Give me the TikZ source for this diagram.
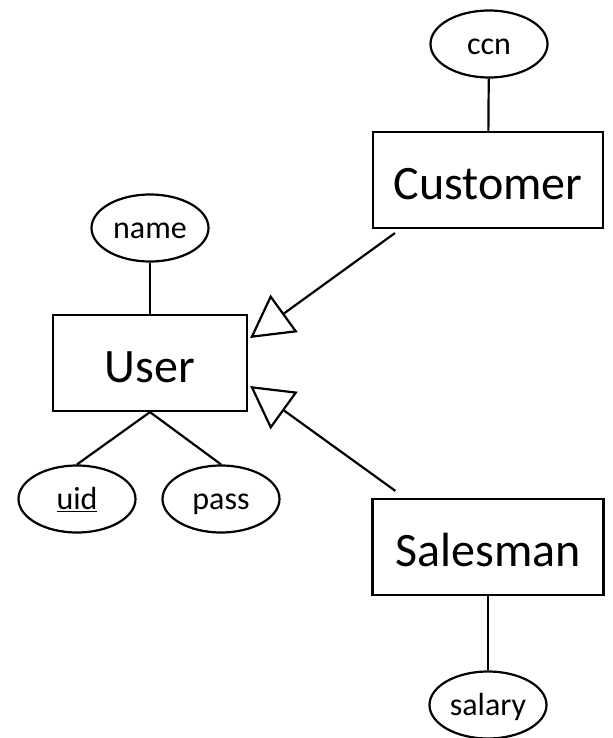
\documentclass[tikz,border=0pt]{standalone}
\usepackage{fontspec}
\setmainfont{Carlito}
\usetikzlibrary{arrows.meta,shapes.geometric,calc}

\tikzset{
  entity/.style={draw, line width=2.2bp, rectangle, minimum height=96bp, inner sep=0pt,
                 text height=40bp, text depth=2bp,
                 font=\fontsize{48bp}{52bp}\selectfont},
  attr/.style={draw, line width=2.2bp, ellipse, minimum width=117bp, minimum height=67bp, inner sep=0pt,
               text height=24bp, text depth=3bp,
               font=\fontsize{32bp}{36bp}\selectfont},
  link/.style={line width=2.2bp},
  isa/.style={line width=2.2bp, -{Triangle[open, length=42bp, width=46bp]}},
}

\begin{document}
\begin{tikzpicture}[x=1bp, y=-1bp]
  \useasboundingbox (0,0) rectangle (613,738);

  % entities
  \node[entity, minimum width=194bp] (user) at (150,363) {User};
  \node[entity, minimum width=230bp] (cust) at (488,180) {Customer};
  \node[entity, minimum width=231bp] (sales) at (488,547) {Salesman};

  % attributes
  \node[attr] (name) at (150,228) {name};
  \node[attr] (uid) at (77,499) {\underline{uid}};
  \node[attr] (pass) at (221,499) {pass};
  \node[attr] (ccn) at (489,44) {ccn};
  \node[attr] (salary) at (488,705) {salary};

  % attribute links
  \draw[link] (name) -- (user);
  \draw[link] (user.south) -- (uid.north);
  \draw[link] (user.south) -- (pass.north);
  \draw[link] (ccn) -- (cust);
  \draw[link] (sales) -- (salary);

  % specialisation arrows
  \coordinate (custfoot) at ($(cust.south west)+(23,4)$);
  \coordinate (salesfoot) at ($(sales.north west)+(24,-7)$);
  \draw[isa] (custfoot) -- ($(user.east)+(2,-25)$);
  \draw[isa] (salesfoot) -- ($(user.east)+(2,23)$);
\end{tikzpicture}
\end{document}
